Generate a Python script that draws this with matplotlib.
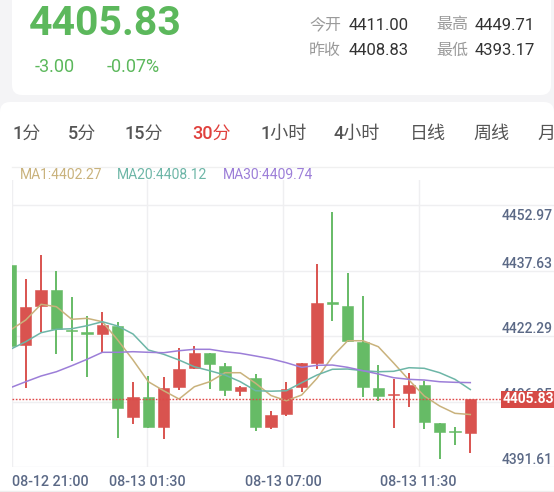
import matplotlib
matplotlib.use('Agg')
import matplotlib.pyplot as plt
from matplotlib.patches import FancyBboxPatch, Rectangle
import matplotlib.transforms as mtransforms
import numpy as np

W, H = 554, 492

# ---------------- data ----------------
open_ = [4437.28, 4418.55, 4427.68, 4431.36, 4421.90, 4421.35, 4421.12, 4423.07, 4401.68, 4406.30,
         4399.41, 4408.64, 4413.23, 4416.60, 4413.70, 4407.84, 4410.89, 4399.41, 4402.39, 4408.64,
         4414.40, 4428.40, 4427.68, 4419.32, 4408.41, 4406.80, 4407.24, 4409.18, 4400.21, 4398.30,
         4397.87]
high = [4437.28, 4433.93, 4439.62, 4435.88, 4429.86, 4425.34, 4426.35, 4423.86, 4409.81, 4411.36,
        4411.12, 4417.77, 4418.38, 4416.60, 4414.26, 4408.94, 4411.68, 4403.09, 4409.81, 4414.33,
        4437.45, 4449.71, 4435.34, 4430.02, 4413.86, 4410.51, 4412.06, 4410.19, 4400.21, 4399.41,
        4405.83]
low = [4418.38, 4408.41, 4421.66, 4416.44, 4414.87, 4411.12, 4416.98, 4396.84, 4400.05, 4399.04,
       4396.46, 4408.01, 4412.93, 4408.24, 4406.67, 4406.60, 4398.48, 4398.80, 4401.92, 4407.47,
       4412.93, 4424.24, 4419.18, 4406.30, 4405.50, 4399.04, 4403.96, 4398.80, 4391.78, 4395.13,
       4393.17]
close = [4418.38, 4427.52, 4431.43, 4422.22, 4421.75, 4421.20, 4423.23, 4403.86, 4406.30, 4399.27,
         4408.41, 4412.93, 4416.60, 4414.03, 4408.01, 4408.64, 4399.41, 4402.15, 4408.24, 4414.33,
         4428.31, 4428.20, 4419.48, 4408.64, 4406.67, 4406.90, 4409.18, 4400.44, 4398.24, 4398.10,
         4405.83]
ma1 = [4422.06, 4424.40, 4428.08, 4427.52, 4424.57, 4424.80, 4424.00, 4419.72, 4415.03, 4409.95,
       4407.84, 4405.90, 4408.78, 4409.95, 4412.06, 4412.06, 4409.58, 4406.72, 4405.50, 4406.84,
       4410.75, 4415.81, 4419.55, 4419.55, 4418.15, 4414.33, 4410.35, 4406.60, 4404.26, 4402.55,
       4402.27]
ma20 = [4417.54, 4419.32, 4421.43, 4422.22, 4422.36, 4423.07, 4424.00, 4423.00, 4421.12, 4417.38,
        4416.37, 4415.03, 4413.46, 4412.53, 4411.52, 4409.95, 4407.84, 4407.73, 4407.84, 4409.72,
        4411.52, 4412.86, 4412.93, 4412.53, 4412.29, 4412.39, 4413.23, 4413.09, 4412.06, 4410.51,
        4408.12]
ma30 = [4408.55, 4409.95, 4411.29, 4412.29, 4413.70, 4415.20, 4416.84, 4416.84, 4416.98, 4416.84,
        4416.74, 4417.21, 4417.54, 4417.54, 4416.98, 4416.60, 4415.97, 4415.31, 4414.40, 4413.32,
        4413.79, 4413.86, 4413.32, 4412.53, 4411.76, 4410.89, 4410.51, 4410.35, 4409.95, 4409.81,
        4409.74]
time_labels = ["08-12 21:00", "08-13 01:30", "08-13 07:00", "08-13 11:30"]
price_labels = ["4452.97", "4437.63", "4422.29", "4406.95", "4391.61"]
last_price = 4405.83
change = -3.00
change_pct = -0.07
stat_names = ["今开", "最高", "昨收", "最低"]
stat_values = [4411.00, 4449.71, 4408.83, 4393.17]
periods = ["1分", "5分", "15分", "30分", "1小时", "4小时", "日线", "周线", "月线"]
active_period = "30分"

# ---------------- style ----------------
RED = '#d9534f'
GREEN = '#66bb66'
C_MA1 = '#c9b27c'
C_MA20 = '#6db6a7'
C_MA30 = '#9c7ed8'
AXIS_TXT = '#5b6986'
GRID = '#efeff1'
FONT = ['Roboto', 'Noto Sans CJK SC', 'DejaVu Sans']
plt.rcParams['font.family'] = FONT

fig = plt.figure(figsize=(W / 100, H / 100), dpi=100)
fig.patch.set_facecolor('#f4f4f6')
ID = mtransforms.IdentityTransform()


def ptext(x, y, s, **kw):
    fig.text(x, H - y, s, transform=ID, **kw)


# cards
fig.patches.append(FancyBboxPatch((12, H - 95), 539, 130, boxstyle='round,pad=0,rounding_size=10',
                                  transform=ID, fc='white', ec='none', zorder=-10))
fig.patches.append(FancyBboxPatch((0, -30), W, H - 102 + 30, boxstyle='round,pad=0,rounding_size=10',
                                  transform=ID, fc='white', ec='none', zorder=-10))

# header
ptext(29, 24, f"{last_price:.2f}", fontsize=29.5, fontweight='bold', color='#5cb85c', va='center')
ptext(35, 67, f"{change:.2f}", fontsize=13, color='#5cb85c', va='center')
ptext(107, 67, f"{change_pct:.2f}%", fontsize=13, color='#5cb85c', va='center')
stat_pos = [(309, 349, 25), (436, 475, 25), (309, 349, 50.5), (436, 475, 50.5)]
for (lx, vx, yy), nm, val in zip(stat_pos, stat_names, stat_values):
    ptext(lx, yy, nm, fontsize=11.5, color='#9a9a9a', va='center')
    ptext(vx, yy, f"{val:.2f}", fontsize=12, color='#333333', va='center')

# period tabs
tab_x = [12.4, 68, 125, 192, 260, 334, 410, 473.5, 537]
for tx, p in zip(tab_x, periods):
    ptext(tx, 133.6, p, fontsize=13, fontweight='medium',
          color=('#e0403c' if p == active_period else '#555555'), va='center')

# divider
fig.lines.append(plt.Line2D([12, W], [H - 167, H - 167], transform=ID, color='#f0f0f0', lw=1, zorder=-5))
fig.lines.append(plt.Line2D([0, W], [H - 490.5, H - 490.5], transform=ID, color='#eeeeee', lw=1, zorder=-5))

# MA legend
ptext(19.4, 175, f"MA1:{ma1[-1]:.2f}", fontsize=10, color=C_MA1, va='center')
ptext(116.6, 175, f"MA20:{ma20[-1]:.2f}", fontsize=10, color=C_MA20, va='center')
ptext(222.6, 175, f"MA30:{ma30[-1]:.2f}", fontsize=10, color=C_MA30, va='center')

# ---------------- chart axes ----------------
ax = fig.add_axes([12 / W, (H - 467) / H, 542 / W, 287 / H], zorder=1)
ax.set_facecolor('none')
for s in ax.spines.values():
    s.set_visible(False)
x0, x1 = 0.104, 35.46
y0, y1 = 4389.98, 4457.19
ax.set_xlim(x0, x1)
ax.set_ylim(y0, y1)

# grid
for gy in np.linspace(y0, 4451.33, 5):
    ax.axhline(gy, color=GRID, lw=1, zorder=0)
fracs = [0, 0.25, 0.5, 0.75]
xt = [x0 + f * (x1 - x0) for f in fracs]
for gx in xt:
    ax.axvline(gx, color=GRID, lw=1, zorder=0)

# candles
o = np.array(open_); c = np.array(close); hi = np.array(high); lo = np.array(low)
xs = np.arange(len(c))
cols = [RED if cc >= oo else GREEN for oo, cc in zip(o, c)]
ax.vlines(xs, lo, hi, colors=cols, lw=1.4, zorder=2)
bottoms = np.minimum(o, c)
heights = np.maximum(np.abs(c - o), 0.35)
ax.bar(xs, heights, bottom=bottoms, width=0.74, color=cols, edgecolor=cols, lw=0.4, zorder=3)

# moving averages
ax.plot(xs, ma1, color=C_MA1, lw=1.1, zorder=4)
ax.plot(xs, ma20, color=C_MA20, lw=1.1, zorder=4)
ax.plot(xs, ma30, color=C_MA30, lw=1.1, zorder=4)

# last price line and box
ax.axhline(last_price, xmax=(503 - 12) / 542, color='#e04848', lw=1.0,
           linestyle=(0, (1.2, 1.2)), zorder=5)
blend = mtransforms.blended_transform_factory(ax.transAxes, ax.transData)

# y labels
top_grid = 4451.33
for lab in price_labels:
    v = float(lab)
    if v > top_grid:
        ax.annotate(lab, xy=(1.0, top_grid), xycoords=blend, xytext=(-1, -3),
                    textcoords='offset points', ha='right', va='top', fontsize=10,
                    color=AXIS_TXT, fontweight='medium', zorder=6)
    else:
        ax.text(0.998, v, lab, transform=blend, ha='right', va='center', fontsize=10,
                color=AXIS_TXT, fontweight='medium', zorder=6)

ax.text(1.0, last_price, f"{last_price:.2f}", transform=blend, ha='right', va='center',
        fontsize=10, fontweight='bold', color='white', zorder=8,
        bbox=dict(boxstyle='square,pad=0.12', fc='#d64a46', ec='none'))

# x labels
ax.set_xticks(xt)
ax.set_xticklabels(time_labels)
ax.tick_params(axis='x', length=0, pad=6, labelsize=10.3, labelcolor=AXIS_TXT)
ax.tick_params(axis='y', left=False, labelleft=False)
for t in ax.get_xticklabels():
    t.set_fontweight('medium')
ax.get_xticklabels()[0].set_ha('left')

fig.savefig('out.png', dpi=100)
